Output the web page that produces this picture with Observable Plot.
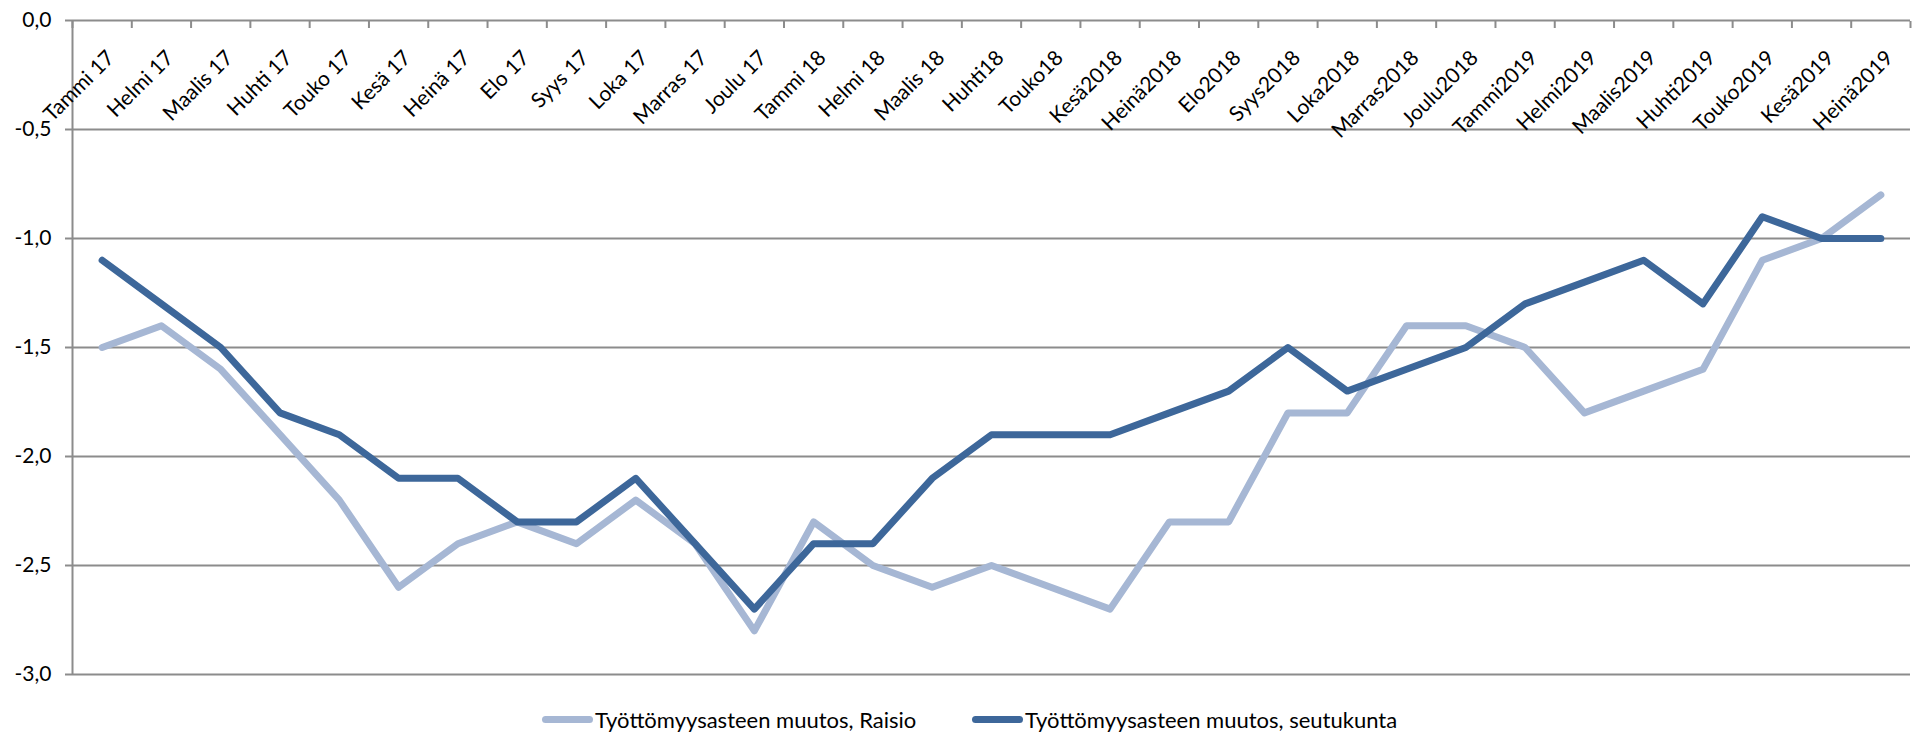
<!DOCTYPE html>
<html><head><meta charset="utf-8">
<script src="https://cdn.jsdelivr.net/npm/d3@7"></script>
<script src="https://cdn.jsdelivr.net/npm/@observablehq/plot@0.6"></script>
<style>
body{margin:0;background:#fff;font-family:Lato,sans-serif;}
#wrap{position:relative;width:1915px;height:734px;}
.leg{position:absolute;top:706px;display:flex;align-items:center;font-size:22px;color:#000;white-space:nowrap;}
.sw{width:51px;height:7px;border-radius:4px;margin-right:2px;}
</style>
</head><body><div id="wrap"></div>
<script>
const months = ["Tammi 17","Helmi 17","Maalis 17","Huhti 17","Touko 17","Kesä 17","Heinä 17","Elo 17","Syys 17","Loka 17","Marras 17","Joulu 17","Tammi 18","Helmi 18","Maalis 18","Huhti18","Touko18","Kesä2018","Heinä2018","Elo2018","Syys2018","Loka2018","Marras2018","Joulu2018","Tammi2019","Helmi2019","Maalis2019","Huhti2019","Touko2019","Kesä2019","Heinä2019"];
const raisio = [-1.5,-1.4,-1.6,-1.9,-2.2,-2.6,-2.4,-2.3,-2.4,-2.2,-2.4,-2.8,-2.3,-2.5,-2.6,-2.5,-2.6,-2.7,-2.3,-2.3,-1.8,-1.8,-1.4,-1.4,-1.5,-1.8,-1.7,-1.6,-1.1,-1.0,-0.8];
const seutukunta = [-1.1,-1.3,-1.5,-1.8,-1.9,-2.1,-2.1,-2.3,-2.3,-2.1,-2.4,-2.7,-2.4,-2.4,-2.1,-1.9,-1.9,-1.9,-1.8,-1.7,-1.5,-1.7,-1.6,-1.5,-1.3,-1.2,-1.1,-1.3,-0.9,-1.0,-1.0];
const yTicks = [0,-0.5,-1.0,-1.5,-2.0,-2.5,-3.0];
const seriesNames = ["Työttömyysasteen muutos, Raisio","Työttömyysasteen muutos, seutukunta"];
const colors = ["#a6b7d4","#3d679a"];

const data = [
  ...months.map((m,i)=>({i, v: raisio[i], s: seriesNames[0]})),
  ...months.map((m,i)=>({i, v: seutukunta[i], s: seriesNames[1]}))
];
const idx = months.map((m,i)=>i);
const bounds = d3.range(months.length+1).map(i=>i-0.5);
const grid = "#8c8c8c";

const chart = Plot.plot({
  width:1915, height:690,
  marginLeft:72, marginRight:5, marginTop:20, marginBottom:16,
  style:{fontFamily:"Lato, sans-serif", fontSize:"21px", color:"#000", background:"#fff"},
  x:{type:"linear", domain:[-0.5, months.length-0.5]},
  y:{domain:[-3,0]},
  color:{domain:seriesNames, range:colors},
  marks:[
    Plot.ruleY(yTicks, {stroke:grid, strokeWidth:2}),
    Plot.ruleX([-0.5], {stroke:grid, strokeWidth:2}),
    Plot.axisY({ticks:yTicks, tickSize:7, stroke:grid, strokeWidth:2, tickFormat:()=>"", label:null}),
    Plot.axisY({ticks:yTicks, tickSize:0, tickPadding:21, fill:"#000", tickFormat:d=>d.toFixed(1).replace(".",","), label:null}),
    Plot.axisX({anchor:"top", ticks:bounds, tickSize:7, dy:7, stroke:grid, strokeWidth:2, tickFormat:()=>"", label:null}),
    Plot.text(idx, {x:d=>d, text:d=>months[d], frameAnchor:"top", rotate:-45, textAnchor:"end", dx:3, dy:28, fill:"#000"}),
    Plot.line(data, {x:"i", y:"v", z:"s", stroke:"s", strokeWidth:7, strokeLinecap:"round", strokeLinejoin:"round"})
  ]
});
const wrap = document.getElementById("wrap");
wrap.appendChild(chart);
const legLeft = [542, 972];
seriesNames.forEach((n,k)=>{
  const d = document.createElement("div");
  d.className="leg"; d.style.left = legLeft[k]+"px";
  d.innerHTML = `<span class="sw" style="background:${colors[k]}"></span><span>${n}</span>`;
  wrap.appendChild(d);
});
</script>
</body></html>
